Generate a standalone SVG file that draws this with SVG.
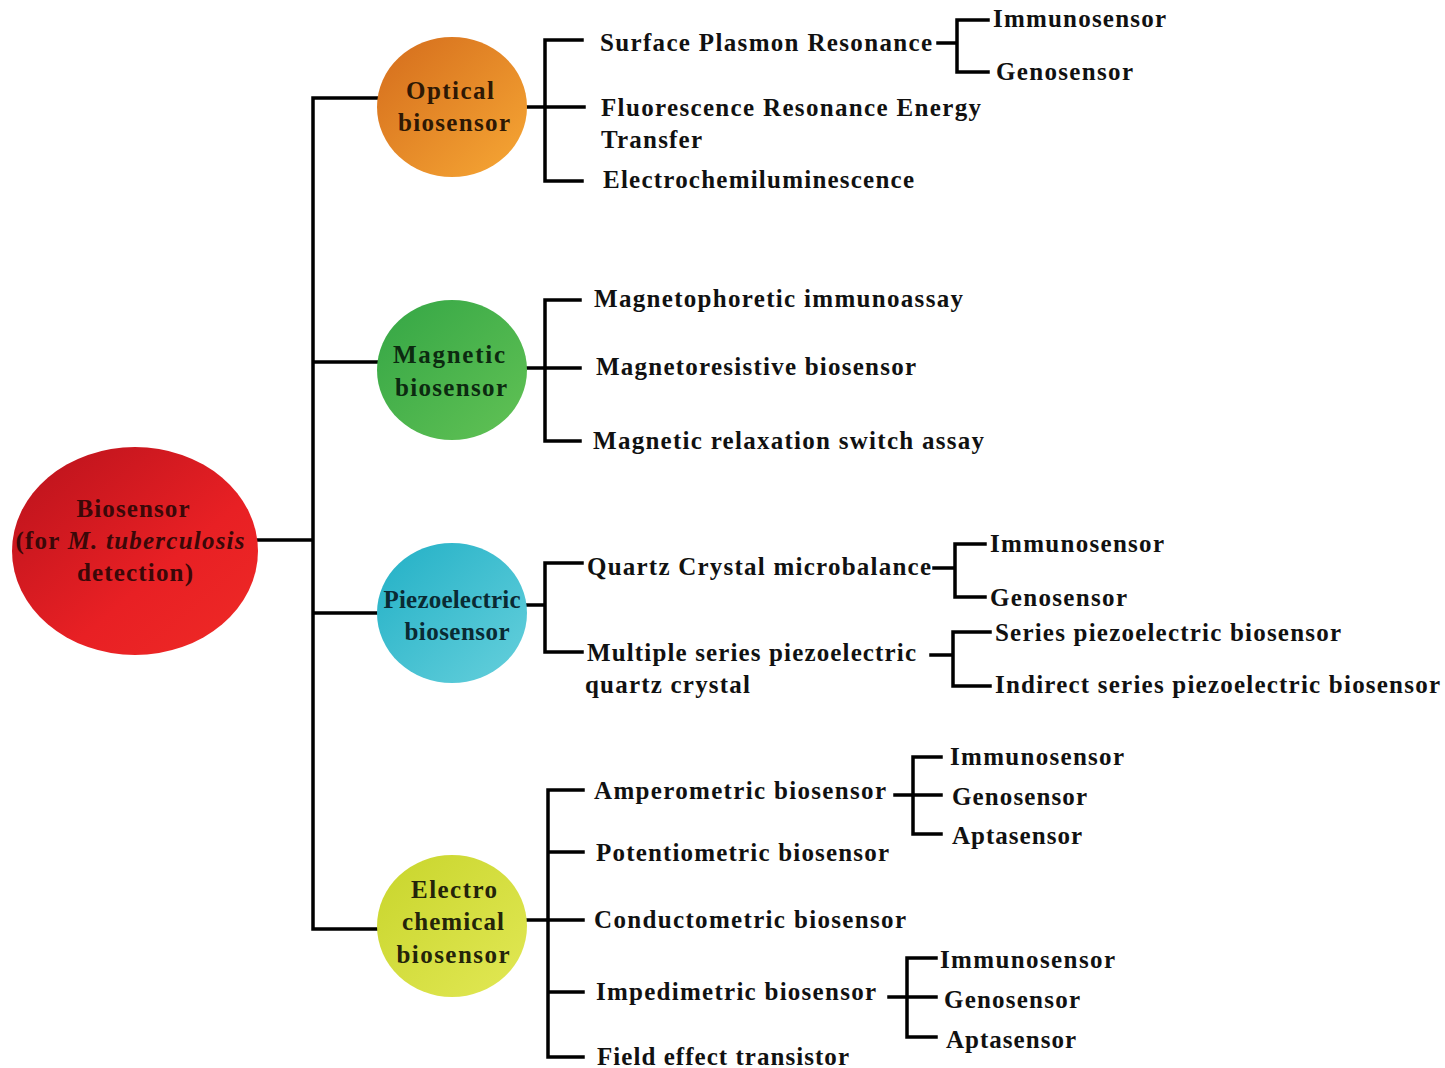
<svg xmlns="http://www.w3.org/2000/svg" width="1445" height="1068" viewBox="0 0 1445 1068">
<defs>
<style>
text{font-family:"Liberation Serif","Times New Roman",serif;font-weight:bold;font-size:25px;fill:#111;}
.c{text-anchor:middle;}
.ln{stroke:#000;stroke-width:3.5;fill:none;stroke-linecap:square;}
</style>
<linearGradient id="gRed" x1="0" y1="0" x2="1" y2="1"><stop offset="0" stop-color="#b8121c"/><stop offset="0.6" stop-color="#e82024"/><stop offset="1" stop-color="#ef2a26"/></linearGradient>
<linearGradient id="gOr" x1="0" y1="0" x2="1" y2="1"><stop offset="0" stop-color="#d46c1c"/><stop offset="1" stop-color="#f7a835"/></linearGradient>
<linearGradient id="gGr" x1="0" y1="0" x2="1" y2="1"><stop offset="0" stop-color="#34a645"/><stop offset="1" stop-color="#62c255"/></linearGradient>
<linearGradient id="gCy" x1="0" y1="0" x2="1" y2="1"><stop offset="0" stop-color="#22b0c6"/><stop offset="1" stop-color="#66d0dc"/></linearGradient>
<linearGradient id="gYe" x1="0" y1="0" x2="1" y2="1"><stop offset="0" stop-color="#c8d52c"/><stop offset="1" stop-color="#e2e855"/></linearGradient>
</defs>
<rect width="1445" height="1068" fill="#fff"/>
<g id="connectors">
<path class="ln" d="M258 540H313M313 98V929M313 98H377M313 362H377M313 613H377M313 929H377"/>
<path class="ln" d="M527 107H584M545 40V181M545 40H582M545 181H582"/>
<path class="ln" d="M527 368H580M545 300V441M545 300H580M545 441H580"/>
<path class="ln" d="M527 605H545M545 563V652M545 563H582M545 652H582"/>
<path class="ln" d="M527 920H583M548 790V1057M548 790H583M548 852H583M548 992H583M548 1057H583"/>
<path class="ln" d="M938 43H957M957 20V72M957 20H988M957 72H988"/>
<path class="ln" d="M934 568H955M955 544V597M955 544H985M955 597H985"/>
<path class="ln" d="M931 655H953M953 632V686M953 632H990M953 686H990"/>
<path class="ln" d="M895 795H941M913 757V834M913 757H941M913 834H941"/>
<path class="ln" d="M889 997H936M907 958V1037M907 958H936M907 1037H936"/>
</g>
<g id="root">
<ellipse cx="135" cy="551" rx="123" ry="104" fill="url(#gRed)"/>
<text class="c" x="133" y="517" textLength="113" fill="#3a0808" style="fill:#3a0808">Biosensor</text>
<text class="c" x="130" y="549" textLength="229" style="fill:#3a0808">(for <tspan font-style="italic">M. tuberculosis</tspan></text>
<text class="c" x="135" y="581" textLength="116" style="fill:#3a0808">detection)</text>
</g>
<g id="optical">
<ellipse cx="452" cy="107" rx="75" ry="70" fill="url(#gOr)"/>
<text class="c" x="450" y="99" textLength="88" style="fill:#2e1804">Optical</text>
<text class="c" x="454" y="131" textLength="112" style="fill:#2e1804">biosensor</text>
</g>
<g id="magnetic">
<ellipse cx="452" cy="370" rx="75" ry="70" fill="url(#gGr)"/>
<text class="c" x="449" y="363" textLength="112" style="fill:#0c2a10">Magnetic</text>
<text class="c" x="451" y="396" textLength="112" style="fill:#0c2a10">biosensor</text>
</g>
<g id="piezoelectric">
<ellipse cx="452" cy="613" rx="75" ry="70" fill="url(#gCy)"/>
<text class="c" x="452" y="608" textLength="137" style="fill:#0a2a33">Piezoelectric</text>
<text class="c" x="457" y="640" textLength="105" style="fill:#0a2a33">biosensor</text>
</g>
<g id="electrochemical">
<ellipse cx="452" cy="926" rx="75" ry="71" fill="url(#gYe)"/>
<text class="c" x="454" y="898" textLength="86" style="fill:#24240a">Electro</text>
<text class="c" x="453" y="930" textLength="102" style="fill:#24240a">chemical</text>
<text class="c" x="453" y="963" textLength="113" style="fill:#24240a">biosensor</text>
</g>
<g id="optical-items">
<text x="600" y="51" textLength="332">Surface Plasmon Resonance</text>
<text x="601" y="116" textLength="380">Fluorescence Resonance Energy</text>
<text x="601" y="148" textLength="101">Transfer</text>
<text x="603" y="188" textLength="311">Electrochemiluminescence</text>
<text x="993" y="27" textLength="173">Immunosensor</text>
<text x="996" y="80" textLength="137">Genosensor</text>
</g>
<g id="magnetic-items">
<text x="594" y="307" textLength="369">Magnetophoretic immunoassay</text>
<text x="596" y="375" textLength="320">Magnetoresistive biosensor</text>
<text x="593" y="449" textLength="391">Magnetic relaxation switch assay</text>
</g>
<g id="piezo-items">
<text x="587" y="575" textLength="344">Quartz Crystal microbalance</text>
<text x="587" y="661" textLength="329">Multiple series piezoelectric</text>
<text x="585" y="693" textLength="165">quartz crystal</text>
<text x="990" y="552" textLength="174">Immunosensor</text>
<text x="990" y="606" textLength="137">Genosensor</text>
<text x="995" y="641" textLength="346">Series piezoelectric biosensor</text>
<text x="995" y="693" textLength="445">Indirect series piezoelectric biosensor</text>
</g>
<g id="electro-items">
<text x="594" y="799" textLength="292">Amperometric biosensor</text>
<text x="596" y="861" textLength="293">Potentiometric biosensor</text>
<text x="594" y="928" textLength="312">Conductometric biosensor</text>
<text x="596" y="1000" textLength="280">Impedimetric biosensor</text>
<text x="597" y="1065" textLength="252">Field effect transistor</text>
<text x="950" y="765" textLength="174">Immunosensor</text>
<text x="952" y="805" textLength="135">Genosensor</text>
<text x="952" y="844" textLength="130">Aptasensor</text>
<text x="940" y="968" textLength="175">Immunosensor</text>
<text x="944" y="1008" textLength="136">Genosensor</text>
<text x="946" y="1048" textLength="130">Aptasensor</text>
</g>
</svg>
